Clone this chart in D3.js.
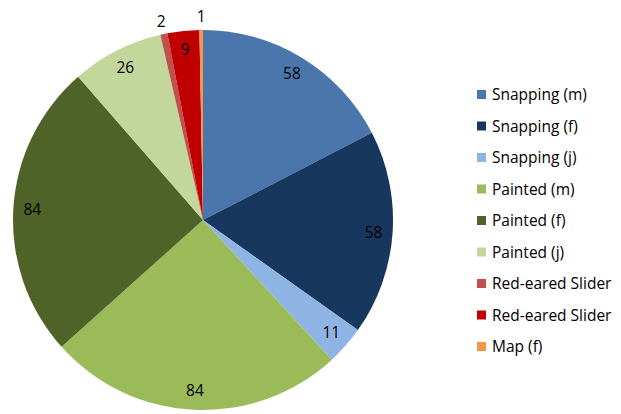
<!DOCTYPE html>
<meta charset="utf-8">
<style>
body { margin: 0; background: #fff; }
text { font-family: "Open Sans", sans-serif; font-size: 15.5px; fill: #000; }
</style>
<svg width="621" height="414"></svg>
<script src="https://cdn.jsdelivr.net/npm/d3@7"></script>
<script>

var categories = ["Snapping (m)", "Snapping (f)", "Snapping (j)", "Painted (m)", "Painted (f)",
                  "Painted (j)", "Red-eared Slider", "Red-eared Slider", "Map (f)"];
var counts = [58, 58, 11, 84, 84, 26, 2, 9, 1];
var colors = ["#4a76ab", "#17375e", "#8eb4e3", "#9bbb59", "#4f6228",
              "#c3d69b", "#c0504d", "#c00000", "#f79646"];

var svg = d3.select("svg"),
    cx = 203, cy = 220, radius = 190;

var data = categories.map(function(c, i) { return {name: c, value: counts[i], color: colors[i]}; });

var pie = d3.pie().sort(null).value(function(d) { return d.value; });
var arcs = pie(data);

var arc = d3.arc().innerRadius(0).outerRadius(radius);

var g = svg.append("g").attr("transform", "translate(" + cx + "," + cy + ")");

g.selectAll("path")
  .data(arcs)
  .enter().append("path")
    .attr("d", arc)
    .attr("fill", function(d) { return d.data.color; });

// labels: inside near the edge, tiny slices go outside
function labelPos(d) {
  var a = (d.startAngle + d.endAngle) / 2;
  var small = (d.endAngle - d.startAngle) < 0.1;
  var r = small ? radius * 1.07 : radius * 0.9;
  return [Math.sin(a) * r, -Math.cos(a) * r];
}

g.selectAll("text")
  .data(arcs)
  .enter().append("text")
    .attr("x", function(d) { return labelPos(d)[0]; })
    .attr("y", function(d) { return labelPos(d)[1]; })
    .attr("dy", "0.35em")
    .attr("text-anchor", "middle")
    .text(function(d) { return d.data.value; });

// legend
var legendY = d3.scalePoint().domain(d3.range(data.length)).range([95, 347]);

var legend = svg.append("g").selectAll("g")
  .data(data)
  .enter().append("g")
    .attr("transform", function(d, i) { return "translate(477," + legendY(i) + ")"; });

legend.append("rect")
    .attr("x", 0).attr("y", -5)
    .attr("width", 9).attr("height", 9)
    .attr("fill", function(d) { return d.color; });

legend.append("text")
    .attr("x", 15)
    .attr("dy", "0.35em")
    .text(function(d) { return d.name; });

</script>
